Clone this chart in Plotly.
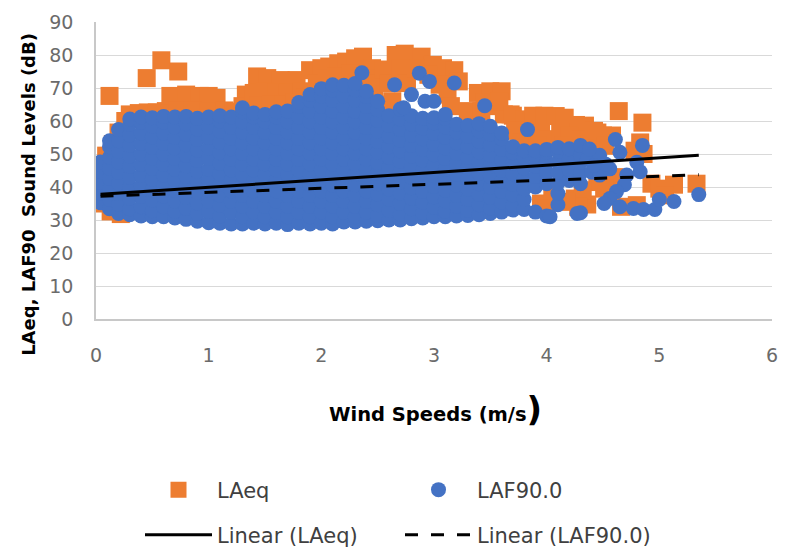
import plotly.graph_objects as go

# ---------------- data (read/estimated from the picture) ----------------
# LAF90.0 dense cloud: speed bins and the levels seen in each bin
laf90_bin_speed = [0.04, 0.12, 0.20, 0.30, 0.40, 0.50, 0.60, 0.70, 0.80, 0.90,
                   1.00, 1.10, 1.20, 1.30, 1.40, 1.50, 1.60, 1.70, 1.80, 1.90,
                   2.00, 2.10, 2.20, 2.30, 2.40, 2.50, 2.60, 2.70, 2.80, 2.90,
                   3.00, 3.10, 3.20, 3.30, 3.40, 3.50, 3.60, 3.70, 3.80, 3.90,
                   4.00, 4.10, 4.20, 4.30]
laf90_bin_levels = [
    [35.2, 38.2, 41.4, 44.6, 47.6],
    [33.4, 36.2, 39.4, 42.6, 45.8, 49.0, 52.2, 54.0],
    [32.0, 34.8, 38.0, 41.2, 44.4, 47.6, 50.8, 54.0, 57.4],
    [31.6, 33.4, 36.6, 39.8, 43.0, 46.2, 49.4, 52.6, 55.8, 59.0, 60.6],
    [31.2, 34.0, 37.2, 40.4, 43.6, 46.8, 50.0, 53.2, 56.4, 59.6, 61.2],
    [31.0, 32.8, 36.0, 39.2, 42.4, 45.6, 48.8, 52.0, 55.2, 58.4, 61.0],
    [31.0, 34.0, 37.2, 40.4, 43.6, 46.8, 50.0, 53.2, 56.4, 59.6, 61.4],
    [30.6, 32.6, 35.8, 39.0, 42.2, 45.4, 48.6, 51.8, 55.0, 58.2, 61.2],
    [30.2, 33.6, 36.8, 40.0, 43.2, 46.4, 49.6, 52.8, 56.0, 59.2, 61.4],
    [29.6, 32.0, 35.2, 38.4, 41.6, 44.8, 48.0, 51.2, 54.4, 57.6, 60.8],
    [29.2, 32.6, 35.8, 39.0, 42.2, 45.4, 48.6, 51.8, 55.0, 58.2, 61.2],
    [29.0, 31.2, 34.4, 37.6, 40.8, 44.0, 47.2, 50.4, 53.6, 56.8, 60.0, 61.6],
    [28.8, 32.4, 35.6, 38.8, 42.0, 45.2, 48.4, 51.6, 54.8, 58.0, 61.2],
    [28.8, 31.0, 34.2, 37.4, 40.6, 43.8, 47.0, 50.2, 53.4, 56.6, 59.8, 62.8, 64.0],
    [29.0, 32.4, 35.6, 38.8, 42.0, 45.2, 48.4, 51.6, 54.8, 58.0, 61.2, 62.4],
    [28.8, 31.0, 34.2, 37.4, 40.6, 43.8, 47.0, 50.2, 53.4, 56.6, 59.8, 62.0],
    [29.0, 32.4, 35.6, 38.8, 42.0, 45.2, 48.4, 51.6, 54.8, 58.0, 61.2, 62.8],
    [28.6, 31.0, 34.2, 37.4, 40.6, 43.8, 47.0, 50.2, 53.4, 56.6, 59.8, 63.0],
    [29.0, 32.4, 35.6, 38.8, 42.0, 45.2, 48.4, 51.6, 54.8, 58.0, 61.2, 64.4, 65.6],
    [28.8, 31.0, 34.2, 37.4, 40.6, 43.8, 47.0, 50.2, 53.4, 56.6, 59.8, 63.0, 66.2, 68.0],
    [29.0, 32.4, 35.6, 38.8, 42.0, 45.2, 48.4, 51.6, 54.8, 58.0, 61.2, 64.4, 67.6, 69.8],
    [28.8, 31.0, 34.2, 37.4, 40.6, 43.8, 47.0, 50.2, 53.4, 56.6, 59.8, 63.0, 66.2, 69.4, 71.0],
    [29.4, 32.4, 35.6, 38.8, 42.0, 45.2, 48.4, 51.6, 54.8, 58.0, 61.2, 64.4, 67.6, 70.8],
    [29.4, 31.0, 34.2, 37.4, 40.6, 43.8, 47.0, 50.2, 53.4, 56.6, 59.8, 63.0, 66.2, 69.4, 71.4],
    [29.6, 32.4, 35.6, 38.8, 42.0, 45.2, 48.4, 51.6, 54.8, 58.0, 61.2, 64.4, 67.4, 69.0],
    [29.8, 31.4, 34.6, 37.8, 41.0, 44.2, 47.4, 50.6, 53.8, 57.0, 60.2, 63.4, 66.0],
    [30.0, 33.0, 36.2, 39.4, 42.6, 45.8, 49.0, 52.2, 55.4, 58.6, 61.6],
    [30.0, 31.8, 35.0, 38.2, 41.4, 44.6, 47.8, 51.0, 54.2, 57.4, 60.6, 63.6],
    [30.4, 33.4, 36.6, 39.8, 43.0, 46.2, 49.4, 52.6, 55.8, 59.0, 61.6],
    [30.6, 32.2, 35.4, 38.6, 41.8, 45.0, 48.2, 51.4, 54.6, 57.8, 60.8],
    [31.0, 33.8, 37.0, 40.2, 43.4, 46.6, 49.8, 53.0, 56.2, 59.4, 61.0],
    [31.0, 32.6, 35.8, 39.0, 42.2, 45.4, 48.6, 51.8, 55.0, 58.2, 60.8],
    [31.2, 34.2, 37.4, 40.6, 43.8, 47.0, 50.2, 53.4, 56.6, 59.0],
    [31.4, 33.0, 36.2, 39.4, 42.6, 45.8, 49.0, 52.2, 55.4, 58.6],
    [31.6, 34.6, 37.8, 41.0, 44.2, 47.4, 50.6, 53.8, 57.0, 59.2],
    [32.0, 33.6, 36.8, 40.0, 43.2, 46.4, 49.6, 52.8, 56.0, 58.4],
    [32.4, 35.4, 38.6, 41.8, 45.0, 48.2, 51.4, 54.6, 56.4],
    [33.0, 34.4, 37.6, 40.8, 44.0, 47.2, 50.4, 52.2],
    [33.2, 36.2, 39.4, 42.6, 45.8, 49.0, 51.0],
    [32.4, 40.0, 43.2, 46.4, 49.6, 51.0],
    [31.2, 41.0, 44.2, 47.4, 50.6, 51.4],
    [34.6, 38.0, 41.2, 44.4, 47.6, 50.8, 52.0],
    [42.0, 45.2, 48.4, 51.6],
    [32.2, 41.0, 44.2, 47.4, 49.6, 52.6],
]
# LAF90.0 scattered points outside the dense cloud
laf90_extra_speed = [2.36, 2.65, 2.87, 2.96, 3.18, 2.80, 2.92, 3.00, 2.73, 3.10,
                     3.45, 3.83, 4.03, 4.27, 4.36, 4.40, 4.47, 4.47, 4.56, 4.61,
                     4.65, 4.71, 4.69, 4.62, 4.56, 4.51, 4.65, 4.77, 4.86, 4.96,
                     5.00, 5.13, 5.35, 4.80, 4.85, 4.83, 4.52, 4.42, 4.38]
laf90_extra_level = [74.6, 71.0, 74.5, 72.0, 71.5, 68.0, 66.0, 66.0, 64.0, 62.0,
                     64.6, 57.4, 31.0, 32.0, 48.4, 44.5, 49.6, 43.6, 45.5, 54.4,
                     50.5, 43.6, 40.7, 38.6, 36.5, 35.0, 34.0, 33.5, 33.2, 33.2,
                     36.2, 35.6, 37.7, 47.5, 52.6, 44.6, 47.0, 46.5, 51.5]

# LAeq points (visible around / outside the LAF90.0 cloud)
laeq_speed = [0.03, 0.03, 0.04, 0.05, 0.09, 0.12, 0.13, 0.15, 0.20, 0.22, 0.26,
              0.30, 0.38, 0.46, 0.54, 0.62,
              0.45, 0.58, 0.73,
              0.66, 0.80, 0.92, 1.00, 1.07, 0.72, 0.86, 1.00, 1.14, 1.22, 1.33, 1.30,
              1.43, 1.52, 1.64, 1.78, 1.40, 1.50, 1.60, 1.70, 1.82, 1.44, 1.55, 1.66, 1.76, 1.86,
              1.90, 2.00, 2.07, 2.15, 2.22, 2.30, 2.37, 2.45, 1.96, 2.05, 2.13, 2.26, 2.40,
              2.50, 2.47, 2.55,
              2.55, 2.66, 2.74, 2.89, 2.99, 3.08, 3.18, 3.22, 3.39, 3.50, 3.60, 3.68,
              2.60, 2.70, 2.76, 2.84, 2.95, 3.05, 3.12, 2.63, 3.15, 3.30, 3.42, 3.55,
              3.62, 3.45, 3.58,
              3.70, 3.80, 3.88, 3.98, 4.08, 4.16, 4.26, 4.34, 4.45, 3.72, 3.85, 3.95,
              4.02, 4.12, 4.20, 4.30, 4.38, 3.78, 3.92, 4.15,
              4.42, 4.50, 4.58, 4.64, 4.85, 4.83, 4.78, 4.86, 4.45, 4.52, 4.45, 4.55,
              4.60, 4.51, 4.36, 4.66, 4.80, 4.93, 5.00, 5.13, 5.05, 5.33,
              3.95, 4.05, 4.00, 4.25, 4.32, 4.28, 4.18]
laeq_level = [38.0, 42.5, 46.5, 35.0, 49.5, 67.6, 32.6, 53.0, 56.5, 31.8, 60.0,
              62.0, 62.4, 62.6, 62.6, 63.0,
              73.0, 78.4, 75.0,
              67.6, 68.0, 67.6, 67.6, 67.0, 63.2, 63.2, 63.0, 63.2, 62.8, 68.0, 64.5,
              73.5, 73.0, 72.4, 72.4, 68.5, 69.0, 68.5, 68.5, 69.0, 64.8, 65.0, 65.0, 65.5, 67.0,
              75.4, 76.0, 76.5, 77.5, 78.0, 79.0, 79.5, 76.0, 71.5, 73.0, 73.5, 74.5, 73.0,
              71.5, 68.0, 65.0,
              75.6, 80.0, 80.4, 79.5, 77.0, 76.0, 75.4, 72.0, 68.5, 69.0, 69.0, 62.0,
              71.5, 76.0, 71.5, 76.0, 74.0, 71.0, 68.0, 66.0, 64.5, 63.0, 63.0, 64.5,
              62.0, 65.5, 66.0,
              61.6, 60.5, 61.6, 61.6, 61.5, 61.0, 58.8, 58.6, 56.5, 57.0, 55.5, 56.5,
              54.5, 56.5, 55.5, 54.5, 53.0, 53.5, 52.5, 52.5,
              57.0, 55.6, 55.6, 63.0, 59.5, 53.5, 51.0, 50.0, 50.5, 52.5, 41.5, 40.0,
              43.0, 39.5, 34.7, 34.0, 34.5, 41.0, 39.5, 40.7, 37.5, 41.0,
              35.0, 37.0, 33.5, 36.5, 39.0, 34.0, 35.5]

# Linear trend lines (end points)
trend_speed = [0.04, 5.35]
laeq_trend = [37.8, 49.6]
laf90_trend = [37.2, 43.7]

x_ticks = [0, 1, 2, 3, 4, 5, 6]
y_ticks = [0, 10, 20, 30, 40, 50, 60, 70, 80, 90]

# ---------------- figure ----------------
laf90_speed = [s for s, lv in zip(laf90_bin_speed, laf90_bin_levels) for _ in lv] + laf90_extra_speed
laf90_level = [v for lv in laf90_bin_levels for v in lv] + laf90_extra_level

ORANGE = "#ED7D31"
BLUE = "#4472C4"
FONT = "DejaVu Sans"
TICK_GRAY = "#6b6b6b"

fig = go.Figure()
fig.add_trace(go.Scatter(x=laeq_speed, y=laeq_level, mode="markers", name="LAeq",
                         marker=dict(symbol="square", size=18, color=ORANGE, line=dict(width=0)),
                         legend="legend"))
fig.add_trace(go.Scatter(x=laf90_speed, y=laf90_level, mode="markers", name="LAF90.0",
                         marker=dict(symbol="circle", size=15, color=BLUE, line=dict(width=0)),
                         legend="legend"))
fig.add_trace(go.Scatter(x=trend_speed, y=laeq_trend, mode="lines", name="Linear (LAeq)",
                         line=dict(color="black", width=3), legend="legend2"))
fig.add_trace(go.Scatter(x=trend_speed, y=laf90_trend, mode="lines", name="Linear (LAF90.0)",
                         line=dict(color="black", width=3, dash="13px,13px"), legend="legend2"))

W, H = 789, 553
L, R, T, B = 96, 11, 19, 234

fig.update_layout(
    width=W, height=H,
    margin=dict(l=L, r=R, t=T, b=B, pad=0),
    paper_bgcolor="white", plot_bgcolor="white",
    font=dict(family=FONT, color=TICK_GRAY),
    xaxis=dict(range=[0, 6], tickvals=x_ticks, showgrid=False, zeroline=False,
               showline=True, linecolor="#c8c8c8", linewidth=1.5, ticks="",
               tickfont=dict(family=FONT, size=19, color=TICK_GRAY),
               ticklabelstandoff=18, fixedrange=True),
    yaxis=dict(range=[0, 90], tickvals=y_ticks, showgrid=True, gridcolor="#d9d9d9",
               gridwidth=1.3, zeroline=False, showline=True, linecolor="#c8c8c8",
               linewidth=1.5, ticks="", tickfont=dict(family=FONT, size=19, color=TICK_GRAY),
               ticklabelstandoff=17, fixedrange=True),
    legend=dict(orientation="h", xref="container", yref="container",
                x=140 / W, y=1 - 490 / H, xanchor="left", yanchor="middle",
                itemwidth=67, entrywidth=178, entrywidthmode="pixels",
                font=dict(family=FONT, size=21, color="#404040"), bgcolor="rgba(0,0,0,0)"),
    legend2=dict(orientation="h", xref="container", yref="container",
                 x=140 / W, y=1 - 535 / H, xanchor="left", yanchor="middle",
                 itemwidth=67, entrywidth=178, entrywidthmode="pixels",
                 font=dict(family=FONT, size=21, color="#404040"), bgcolor="rgba(0,0,0,0)"),
    annotations=[
        dict(text="LAeq, LAF90&nbsp; Sound Levels (dB)", textangle=-90,
             xref="paper", yref="paper", x=(28 - L) / (W - L - R), y=(319 - 193) / 300,
             xanchor="center", yanchor="middle", showarrow=False,
             font=dict(family=FONT, size=18, color="black", weight=700)),
        dict(text="Wind Speeds (m/s<span style='font-size:34px'>)</span>",
             xref="paper", yref="paper", x=(439 - L) / (W - L - R), y=(319 - 410) / 300,
             xanchor="center", yanchor="middle", showarrow=False,
             font=dict(family=FONT, size=19.5, color="black", weight=700)),
    ],
)

fig.write_html("out.html")
